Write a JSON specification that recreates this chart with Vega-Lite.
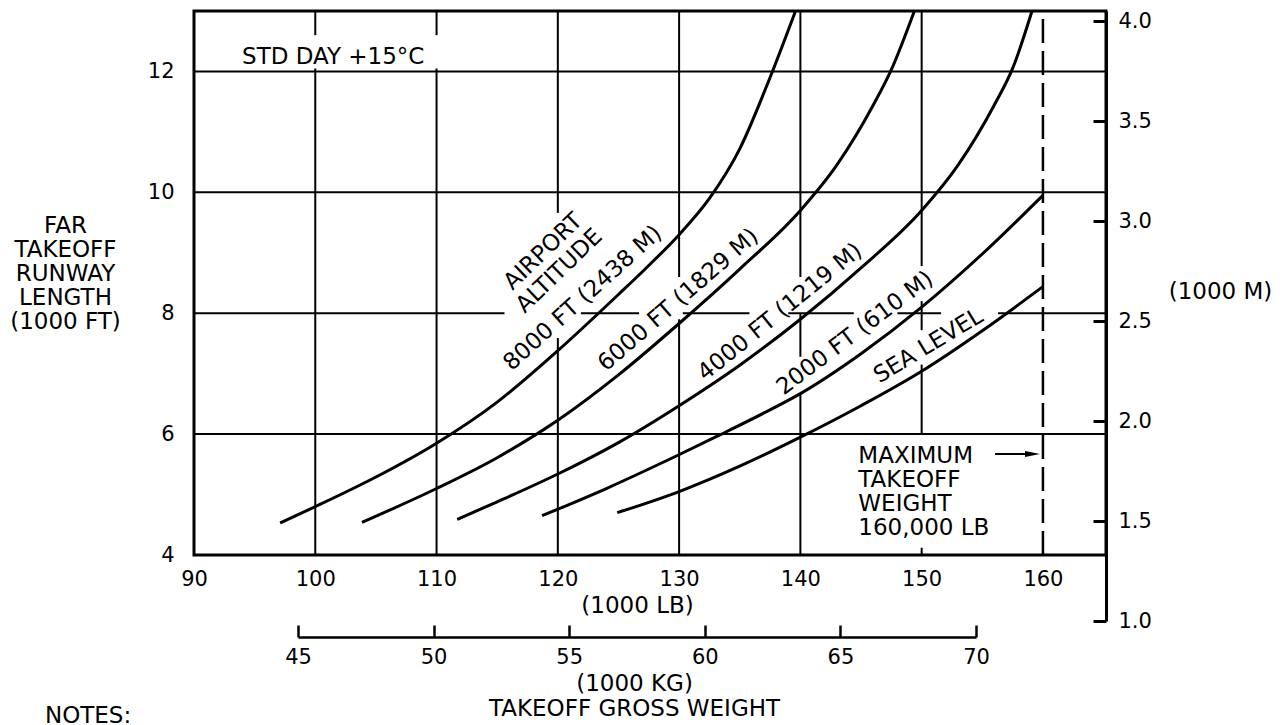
{
  "$schema": "https://vega.github.io/schema/vega-lite/v6.json",
  "width": 912,
  "height": 544,
  "autosize": {"type": "none"},
  "padding": {"left": 194, "top": 11, "right": 179, "bottom": 170},
  "background": "white",
  "config": {
    "font": "DejaVu Sans",
    "view": {"stroke": "black", "strokeWidth": 3},
    "axis": {
      "labelFont": "DejaVu Sans", "labelFontSize": 21, "labelColor": "black",
      "titleFont": "DejaVu Sans", "titleFontSize": 23, "titleFontWeight": "normal", "titleColor": "black",
      "domainColor": "black", "tickColor": "black", "grid": false, "labelFlush": false, "labelOverlap": false
    },
    "text": {"font": "DejaVu Sans", "fontSize": 23, "color": "black"}
  },
  "datasets": {
    "grid": [
      {"lb": 90, "lb2": 165.2, "kft": 12, "kft2": 12},
      {"lb": 90, "lb2": 165.2, "kft": 10, "kft2": 10},
      {"lb": 90, "lb2": 165.2, "kft": 6, "kft2": 6},
      {"lb": 90, "lb2": 115.6, "kft": 8, "kft2": 8},
      {"lb": 121.9, "lb2": 126.7, "kft": 8, "kft2": 8},
      {"lb": 130.3, "lb2": 135.8, "kft": 8, "kft2": 8},
      {"lb": 139.0, "lb2": 144.4, "kft": 8, "kft2": 8},
      {"lb": 148.0, "lb2": 151.6, "kft": 8, "kft2": 8},
      {"lb": 156.3, "lb2": 165.2, "kft": 8, "kft2": 8},
      {"lb": 100, "lb2": 100, "kft": 12.6, "kft2": 13},
      {"lb": 100, "lb2": 100, "kft": 4, "kft2": 12.05},
      {"lb": 110, "lb2": 110, "kft": 12.6, "kft2": 13},
      {"lb": 110, "lb2": 110, "kft": 4, "kft2": 12.05},
      {"lb": 120, "lb2": 120, "kft": 9.66, "kft2": 13},
      {"lb": 120, "lb2": 120, "kft": 4, "kft2": 7.59},
      {"lb": 130, "lb2": 130, "kft": 8.6, "kft2": 13},
      {"lb": 130, "lb2": 130, "kft": 4, "kft2": 7.9},
      {"lb": 140, "lb2": 140, "kft": 8.6, "kft2": 13},
      {"lb": 140, "lb2": 140, "kft": 7.28, "kft2": 8.0},
      {"lb": 140, "lb2": 140, "kft": 4, "kft2": 6.68},
      {"lb": 150, "lb2": 150, "kft": 8.78, "kft2": 13},
      {"lb": 150, "lb2": 150, "kft": 7.72, "kft2": 8.2},
      {"lb": 150, "lb2": 150, "kft": 6, "kft2": 7.15},
      {"lb": 150, "lb2": 150, "kft": 4, "kft2": 4.12}
    ],
    "maxline": [{"lb": 160, "kft": 4, "kft2": 12.87}],
    "curves": [
      {"altitude": "8000 FT", "lb": 97.1, "kft": 4.53},
      {"altitude": "8000 FT", "lb": 100, "kft": 4.8},
      {"altitude": "8000 FT", "lb": 105, "kft": 5.29},
      {"altitude": "8000 FT", "lb": 110, "kft": 5.85},
      {"altitude": "8000 FT", "lb": 115, "kft": 6.53},
      {"altitude": "8000 FT", "lb": 120, "kft": 7.38},
      {"altitude": "8000 FT", "lb": 125, "kft": 8.31},
      {"altitude": "8000 FT", "lb": 127.5, "kft": 8.79},
      {"altitude": "8000 FT", "lb": 130, "kft": 9.3},
      {"altitude": "8000 FT", "lb": 132.5, "kft": 9.9},
      {"altitude": "8000 FT", "lb": 135, "kft": 10.72},
      {"altitude": "8000 FT", "lb": 137.5, "kft": 11.9},
      {"altitude": "8000 FT", "lb": 139.6, "kft": 13.0},
      {"altitude": "6000 FT", "lb": 103.85, "kft": 4.54},
      {"altitude": "6000 FT", "lb": 110, "kft": 5.1},
      {"altitude": "6000 FT", "lb": 115, "kft": 5.61},
      {"altitude": "6000 FT", "lb": 120, "kft": 6.23},
      {"altitude": "6000 FT", "lb": 125, "kft": 6.98},
      {"altitude": "6000 FT", "lb": 130, "kft": 7.83},
      {"altitude": "6000 FT", "lb": 135, "kft": 8.73},
      {"altitude": "6000 FT", "lb": 140, "kft": 9.7},
      {"altitude": "6000 FT", "lb": 143, "kft": 10.45},
      {"altitude": "6000 FT", "lb": 146, "kft": 11.44},
      {"altitude": "6000 FT", "lb": 147.5, "kft": 12.03},
      {"altitude": "6000 FT", "lb": 149.4, "kft": 13.0},
      {"altitude": "4000 FT", "lb": 111.7, "kft": 4.59},
      {"altitude": "4000 FT", "lb": 115, "kft": 4.88},
      {"altitude": "4000 FT", "lb": 120, "kft": 5.34},
      {"altitude": "4000 FT", "lb": 125, "kft": 5.86},
      {"altitude": "4000 FT", "lb": 130, "kft": 6.47},
      {"altitude": "4000 FT", "lb": 135, "kft": 7.14},
      {"altitude": "4000 FT", "lb": 140, "kft": 7.9},
      {"altitude": "4000 FT", "lb": 145, "kft": 8.75},
      {"altitude": "4000 FT", "lb": 150, "kft": 9.7},
      {"altitude": "4000 FT", "lb": 153, "kft": 10.45},
      {"altitude": "4000 FT", "lb": 156, "kft": 11.45},
      {"altitude": "4000 FT", "lb": 157.5, "kft": 12.05},
      {"altitude": "4000 FT", "lb": 159.1, "kft": 13.0},
      {"altitude": "2000 FT", "lb": 118.7, "kft": 4.65},
      {"altitude": "2000 FT", "lb": 124, "kft": 5.1},
      {"altitude": "2000 FT", "lb": 129.9, "kft": 5.65},
      {"altitude": "2000 FT", "lb": 133.4, "kft": 5.99},
      {"altitude": "2000 FT", "lb": 137, "kft": 6.35},
      {"altitude": "2000 FT", "lb": 140, "kft": 6.67},
      {"altitude": "2000 FT", "lb": 145, "kft": 7.33},
      {"altitude": "2000 FT", "lb": 150, "kft": 8.1},
      {"altitude": "2000 FT", "lb": 155, "kft": 8.98},
      {"altitude": "2000 FT", "lb": 160, "kft": 9.95},
      {"altitude": "SEA LEVEL", "lb": 124.9, "kft": 4.7},
      {"altitude": "SEA LEVEL", "lb": 130, "kft": 5.05},
      {"altitude": "SEA LEVEL", "lb": 135, "kft": 5.47},
      {"altitude": "SEA LEVEL", "lb": 140, "kft": 5.95},
      {"altitude": "SEA LEVEL", "lb": 145, "kft": 6.47},
      {"altitude": "SEA LEVEL", "lb": 150, "kft": 7.04},
      {"altitude": "SEA LEVEL", "lb": 155, "kft": 7.71},
      {"altitude": "SEA LEVEL", "lb": 160, "kft": 8.44}
    ],
    "curveLabels": [
      {"label": "AIRPORT", "lb": 118.8, "kft": 9.02, "angle": -44},
      {"label": "ALTITUDE", "lb": 120.12, "kft": 8.7, "angle": -44},
      {"label": "8000 FT (2438 M)", "lb": 122.05, "kft": 8.25, "angle": -42},
      {"label": "6000 FT (1829 M)", "lb": 129.93, "kft": 8.22, "angle": -41},
      {"label": "4000 FT (1219 M)", "lb": 138.32, "kft": 8.02, "angle": -39},
      {"label": "2000 FT (610 M)", "lb": 144.5, "kft": 7.67, "angle": -37},
      {"label": "SEA LEVEL", "lb": 150.55, "kft": 7.46, "angle": -31}
    ],
    "notes": [
      {"label": "STD DAY +15°C", "lb": 93.96, "kft": 12.24},
      {"label": "MAXIMUM", "lb": 144.78, "kft": 5.63},
      {"label": "TAKEOFF", "lb": 144.78, "kft": 5.24},
      {"label": "WEIGHT", "lb": 144.78, "kft": 4.84},
      {"label": "160,000 LB", "lb": 144.78, "kft": 4.45},
      {"label": "NOTES:", "lb": 77.71, "kft": 1.33}
    ],
    "arrow": [{"lb": 156.05, "lb2": 159.14, "kft": 5.67}],
    "arrowhead": [{"lb": 159.14, "kft": 5.67}],
    "kgTicks": [{"kg": 45}, {"kg": 50}, {"kg": 55}, {"kg": 60}, {"kg": 65}, {"kg": 70}],
    "kmTicks": [{"km": 1.0}, {"km": 1.5}, {"km": 2.0}, {"km": 2.5}, {"km": 3.0}, {"km": 3.5}, {"km": 4.0}]
  },
  "resolve": {"scale": {"x": "independent", "y": "independent"}, "axis": {"x": "independent", "y": "independent"}},
  "layer": [
    {
      "encoding": {
        "x": {
          "field": "lb", "type": "quantitative",
          "scale": {"domain": [90, 165.2], "nice": false, "zero": false},
          "axis": {
            "orient": "bottom", "values": [90, 100, 110, 120, 130, 140, 150, 160],
            "domain": false, "ticks": false, "labelPadding": 13,
            "title": "(1000 LB)", "titleX": 443, "titleY": 50, "titleBaseline": "middle", "titleAlign": "center"
          }
        },
        "y": {
          "field": "kft", "type": "quantitative",
          "scale": {"domain": [4, 13], "nice": false, "zero": false},
          "axis": {
            "orient": "left", "values": [4, 6, 8, 10, 12],
            "domain": false, "ticks": false, "labelPadding": 20,
            "title": ["FAR", "TAKEOFF", "RUNWAY", "LENGTH", "(1000 FT)"],
            "titleAngle": 0, "titleX": -129, "titleY": 214, "titleAlign": "center", "titleBaseline": "middle", "titleLineHeight": 24
          }
        }
      },
      "layer": [
        {
          "data": {"name": "grid"},
          "mark": {"type": "rule", "color": "black", "strokeWidth": 2},
          "encoding": {"x2": {"field": "lb2"}, "y2": {"field": "kft2"}}
        },
        {
          "data": {"name": "maxline"},
          "mark": {"type": "rule", "color": "black", "strokeWidth": 2.5, "strokeDash": [24, 8]},
          "encoding": {"y2": {"field": "kft2"}}
        },
        {
          "data": {"name": "curves"},
          "mark": {"type": "line", "color": "black", "strokeWidth": 3, "interpolate": "monotone"},
          "encoding": {"detail": {"field": "altitude"}}
        },
        {
          "data": {"name": "curveLabels"},
          "mark": {"type": "text", "align": "center", "baseline": "middle", "fontSize": 23},
          "encoding": {
            "text": {"field": "label"},
            "angle": {"field": "angle", "type": "quantitative", "scale": null}
          }
        },
        {
          "data": {"name": "notes"},
          "mark": {"type": "text", "align": "left", "baseline": "middle", "fontSize": 23},
          "encoding": {"text": {"field": "label"}}
        },
        {
          "data": {"name": "arrow"},
          "mark": {"type": "rule", "color": "black", "strokeWidth": 2},
          "encoding": {"x2": {"field": "lb2"}}
        },
        {
          "data": {"name": "arrowhead"},
          "mark": {"type": "point", "shape": "M -1 -0.4 L 1 0 L -1 0.4 Z", "size": 225, "filled": true, "color": "black", "opacity": 1}
        }
      ]
    },
    {
      "data": {"name": "kgTicks"},
      "mark": {"type": "point", "opacity": 0},
      "encoding": {
        "x": {
          "field": "kg", "type": "quantitative",
          "scale": {"domain": [45, 70], "range": [104, 782], "nice": false, "zero": false},
          "axis": {
            "orient": "bottom", "offset": 82, "values": [45, 50, 55, 60, 65, 70],
            "domain": true, "domainWidth": 2.5, "ticks": true, "tickSize": -12, "tickWidth": 2.5,
            "labelPadding": 21,
            "title": ["(1000 KG)", "TAKEOFF GROSS WEIGHT"],
            "titleX": 440, "titleY": 46, "titleBaseline": "middle", "titleAlign": "center", "titleLineHeight": 25
          }
        }
      }
    },
    {
      "data": {"name": "kmTicks"},
      "mark": {"type": "point", "opacity": 0},
      "encoding": {
        "y": {
          "field": "km", "type": "quantitative",
          "scale": {"domain": [1, 4.05], "range": [610, 0], "nice": false, "zero": false},
          "axis": {
            "orient": "right", "values": [1, 1.5, 2, 2.5, 3, 3.5, 4], "format": ".1f",
            "domain": true, "domainWidth": 3, "ticks": true, "tickSize": -13, "tickWidth": 3,
            "labelPadding": 25,
            "title": "(1000 M)", "titleAngle": 0, "titleX": 114, "titleY": 280, "titleAlign": "center", "titleBaseline": "middle"
          }
        }
      }
    }
  ]
}
